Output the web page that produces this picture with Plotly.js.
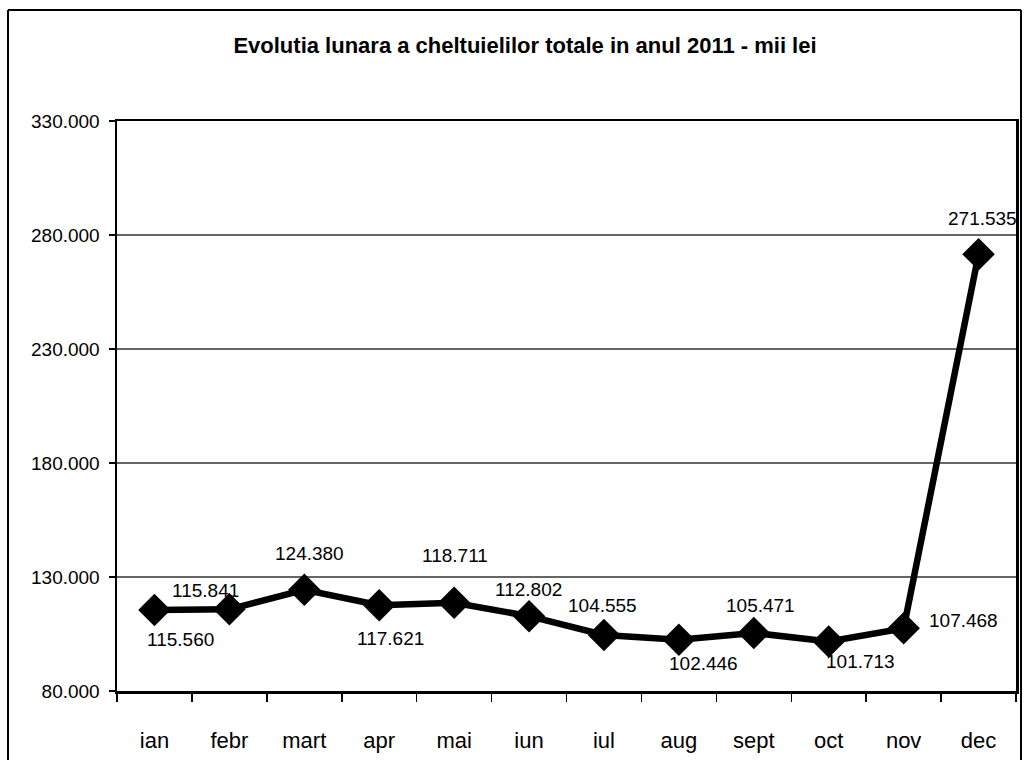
<!DOCTYPE html>
<html>
<head>
<meta charset="utf-8">
<script src="https://cdn.plot.ly/plotly-3.0.1.min.js"></script>
<style>
html,body{margin:0;padding:0;background:#fff;}
#chart{width:1025px;height:760px;}
</style>
</head>
<body>
<div id="chart"></div>
<script>
// Data
var months = ["ian","febr","mart","apr","mai","iun","iul","aug","sept","oct","nov","dec"];
var values = [115560,115841,124380,117621,118711,112802,104555,102446,105471,101713,107468,271535];
var valueLabels = ["115.560","115.841","124.380","117.621","118.711","112.802","104.555","102.446","105.471","101.713","107.468","271.535"];
var yTickVals = [80000,130000,180000,230000,280000,330000];
var yTickText = ["80.000","130.000","180.000","230.000","280.000","330.000"];

// Label placement offsets (style, pixels)
var labelDx = [26,-24,5,11,1,-1,-1,25,7,32,60,4];
var labelDy = [-30,19,36,-33,47,27,30,-24,27,-20,8,36];

var FONT = "Liberation Sans, Arial, sans-serif";

var trace = {
  type: "scatter",
  mode: "lines+markers",
  x: months,
  y: values,
  line: {color: "#000", width: 6.5},
  marker: {symbol: "diamond", size: 25, color: "#000"},
  hoverinfo: "x+y",
  cliponaxis: false
};

var annotations = months.map(function(m, i){
  return {
    x: m, y: values[i], xref: "x", yref: "y",
    text: valueLabels[i], showarrow: false,
    xshift: labelDx[i], yshift: labelDy[i],
    font: {family: FONT, size: 19, color: "#000"}
  };
});

var L = 117, R = 1016, T = 121, B = 691, W = 1025, H = 760;
var pw = R - L, ph = B - T;
function px(x){ return (x - L) / pw; }
function py(y){ return (B - y) / ph; }

var layout = {
  width: W, height: H,
  margin: {l: L, r: W - R, t: T, b: H - B, pad: 0},
  paper_bgcolor: "#fff",
  plot_bgcolor: "#fff",
  showlegend: false,
  title: {
    text: "<b>Evolutia lunara a cheltuielilor totale in anul 2011 - mii lei</b>",
    font: {family: FONT, size: 22, color: "#000"},
    x: 525 / W, xanchor: "center", xref: "container",
    y: 1 - 45 / H, yanchor: "middle", yref: "container"
  },
  xaxis: {
    type: "category",
    categoryorder: "array",
    categoryarray: months,
    range: [-0.5, 11.5],
    tickson: "boundaries",
    ticks: "outside", ticklen: 8, tickwidth: 1.5, tickcolor: "#000",
    ticklabelstandoff: 28,
    showline: true, linecolor: "#000", linewidth: 2.5, mirror: true,
    showgrid: false, zeroline: false,
    tickfont: {family: FONT, size: 22, color: "#000"},
    automargin: false
  },
  yaxis: {
    range: [80000, 330000],
    tickvals: yTickVals, ticktext: yTickText,
    ticks: "outside", ticklen: 6, tickwidth: 1.5, tickcolor: "#000",
    ticklabelstandoff: 5,
    showline: true, linecolor: "#000", linewidth: 2.5, mirror: true,
    showgrid: true, gridcolor: "#666", gridwidth: 1.2,
    zeroline: false,
    tickfont: {family: FONT, size: 19, color: "#000"},
    automargin: false
  },
  annotations: annotations,
  shapes: [
    {type: "line", xref: "paper", yref: "paper", x0: px(8), x1: px(8), y0: py(10), y1: py(760), line: {color: "#000", width: 2}},
    {type: "line", xref: "paper", yref: "paper", x0: px(8), x1: px(1021), y0: py(10), y1: py(10), line: {color: "#000", width: 2}},
    {type: "line", xref: "paper", yref: "paper", x0: px(1021), x1: px(1021), y0: py(10), y1: py(760), line: {color: "#000", width: 2}}
  ]
};

Plotly.newPlot("chart", [trace], layout, {displayModeBar: false, staticPlot: true});
</script>
</body>
</html>
